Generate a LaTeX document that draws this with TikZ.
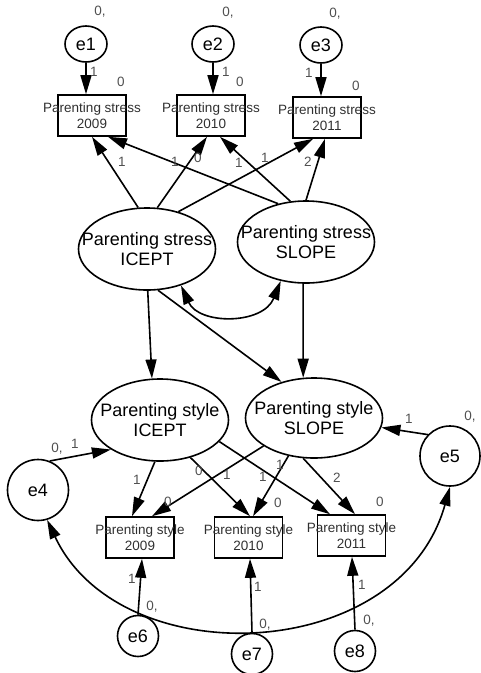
\documentclass[tikz,border=0pt]{standalone}
\usepackage{fontspec}
\setmainfont{Liberation Sans}
\usetikzlibrary{arrows.meta,shapes.geometric}
\definecolor{numgray}{HTML}{505050}
\definecolor{txtgray}{HTML}{303030}
\begin{document}
\begin{tikzpicture}[x=1pt,y=-1pt,
 ln/.style={line width=1.6pt},
 arr/.style={ln,-{Triangle[length=19pt,width=11pt]}},
 darr/.style={ln,{Triangle[length=19pt,width=11pt]}-{Triangle[length=19pt,width=11pt]}},
 ell/.style={ellipse,draw,line width=1.6pt,minimum width=137pt,minimum height=82pt,inner sep=0pt},
 box/.style={rectangle,draw,line width=1.6pt,minimum width=68pt,minimum height=41pt,inner sep=0pt},
 err/.style={circle,draw,line width=1.6pt,minimum size=41pt,inner sep=0pt,font=\fontsize{18}{18}\selectfont},
 errt/.style={ellipse,draw,line width=1.6pt,minimum width=42pt,minimum height=36pt,inner sep=0pt,font=\fontsize{18}{18}\selectfont},
 errb/.style={circle,draw,line width=1.6pt,minimum size=61pt,inner sep=0pt,font=\fontsize{18}{18}\selectfont},
 elltxt/.style={align=center,font=\fontsize{18}{20}\selectfont,inner sep=0pt},
 boxtxt/.style={align=center,font=\fontsize{13.5}{15.5}\selectfont,text=txtgray,inner sep=0pt},
 num/.style={font=\fontsize{13.5}{13.5}\selectfont,text=numgray,inner sep=0pt}
]
\useasboundingbox (0,0) rectangle (481,673);

% error terms top
\node[errt] (e1) at (86,44) {e1};
\node[errt] (e2) at (213,44) {e2};
\node[errt] (e3) at (321,45) {e3};

% stress boxes
\node[box,label={[boxtxt]center:Parenting stress\\2009}] (ps09) at (92,115.5) {};
\node[box,label={[boxtxt]center:Parenting stress\\2010}] (ps10) at (211,115.5) {};
\node[box,label={[boxtxt]center:Parenting stress\\2011}] (ps11) at (327,117.5) {};

% stress latent
\node[ell,label={[elltxt]center:Parenting stress\\ICEPT}] (psI) at (147,249) {};
\node[ell,label={[elltxt]center:Parenting stress\\SLOPE}] (psS) at (306,242) {};

% style latent
\node[ell,label={[elltxt]center:Parenting style\\ICEPT}] (styI) at (160,420) {};
\node[ell,label={[elltxt]center:Parenting style\\SLOPE},minimum height=80pt] (styS) at (314,418) {};

% style boxes
\node[box,label={[boxtxt]center:Parenting style\\2009}] (sty09) at (140,537.5) {};
\node[box,label={[boxtxt]center:Parenting style\\2010}] (sty10) at (248.5,537.5) {};
\node[box,label={[boxtxt]center:Parenting style\\2011}] (sty11) at (351.5,535.5) {};

% other errors
\node[errb] (e4) at (38,490) {e4};
\node[errb,minimum size=60pt] (e5) at (450,456) {e5};
\node[err] (e6) at (138,636) {e6};
\node[err] (e7) at (252,654) {e7};
\node[err] (e8) at (355,651) {e8};

% error arrows top
\draw[arr] (e1.south) -- (e1.south |- ps09.north);
\draw[arr] (e2.south) -- (e2.south |- ps10.north);
\draw[arr] (e3.south) -- (e3.south |- ps11.north);

% loadings stress
\draw[arr] (psI.102) -- (ps09.south);
\draw[arr] (psI.76) -- ([xshift=-4pt]ps10.south);
\draw[arr] (psI.50) -- ([xshift=-14pt]ps11.south);
\draw[arr] (psS.126) -- ([xshift=16pt]ps09.south);
\draw[arr] (psS.111) -- ([xshift=9pt]ps10.south);
\draw[arr] (psS.90) -- ([xshift=-2pt]ps11.south);

% covariance stress
\draw[darr] (psI.-47) .. controls (199,325) and (263,325) .. (psS.-123);

% structural paths
\draw[arr] (psI.-89) -- (styI.101);
\draw[arr] (psI.-75) -- (styS.132);
\draw[arr] (psS.-94) -- (styS.105);

% disturbances
\draw[arr] (e4.68) -- (styI.-149);
\draw[arr] (e5.136) -- (styS.-8);

% loadings style
\draw[arr] (styI.-97) -- ([xshift=-8pt]sty09.north);
\draw[arr] (styI.-51) -- ([xshift=1.5pt]sty10.north);
\draw[arr] (styI.-20) -- ([xshift=-21.5pt]sty11.north);
\draw[arr] (styS.-151) -- ([xshift=12pt]sty09.north);
\draw[arr] (styS.-124) -- ([xshift=4.5pt]sty10.north);
\draw[arr] (styS.-105) -- ([xshift=3.5pt]sty11.north);

% error arrows bottom
\draw[arr] (e6.north) -- ([xshift=2pt]sty09.south);
\draw[arr] (e7.north) -- ([xshift=1.5pt]sty10.south);
\draw[arr] (e8.north) -- ([xshift=0.5pt]sty11.south);

% covariance e4-e5
\draw[darr] (e4.-73) .. controls (120,675) and (400,665) .. (e5.-90);

% numeric labels
\node[num] (n1) at (100,12) {0,};
\node[num] (n2) at (228,13) {0,};
\node[num] (n3) at (335,14) {0,};
\node[num] (n4) at (94,72) {1};
\node[num] (n5) at (226,72) {1};
\node[num] (n6) at (309,73) {1};
\node[num] (n7) at (121,82) {0};
\node[num] (n8) at (240,82) {0};
\node[num] (n9) at (356,86) {0};
\node[num] (n10) at (122,162) {1};
\node[num] (n11) at (175,162) {1};
\node[num] (n12) at (198,158) {0};
\node[num] (n13) at (239,163) {1};
\node[num] (n14) at (265,158) {1};
\node[num] (n15) at (308,162) {2};
\node[num] (n16) at (57,449) {0,};
\node[num] (n17) at (75,444) {1};
\node[num] (n18) at (409,419) {1};
\node[num] (n19) at (470,417) {0,};
\node[num] (n20) at (137,480) {1};
\node[num] (n21) at (199,471) {0};
\node[num] (n22) at (227,475) {1};
\node[num] (n23) at (263,477) {1};
\node[num] (n24) at (280,465) {1};
\node[num] (n25) at (337,478) {2};
\node[num] (n26) at (168,502) {0};
\node[num] (n27) at (278,503) {0};
\node[num] (n28) at (380,502) {0};
\node[num] (n29) at (132,579) {1};
\node[num] (n30) at (152,607) {0,};
\node[num] (n31) at (258,587) {1};
\node[num] (n32) at (265,625) {0,};
\node[num] (n33) at (362,585) {1};
\node[num] (n34) at (369,621) {0,};
\end{tikzpicture}
\end{document}
